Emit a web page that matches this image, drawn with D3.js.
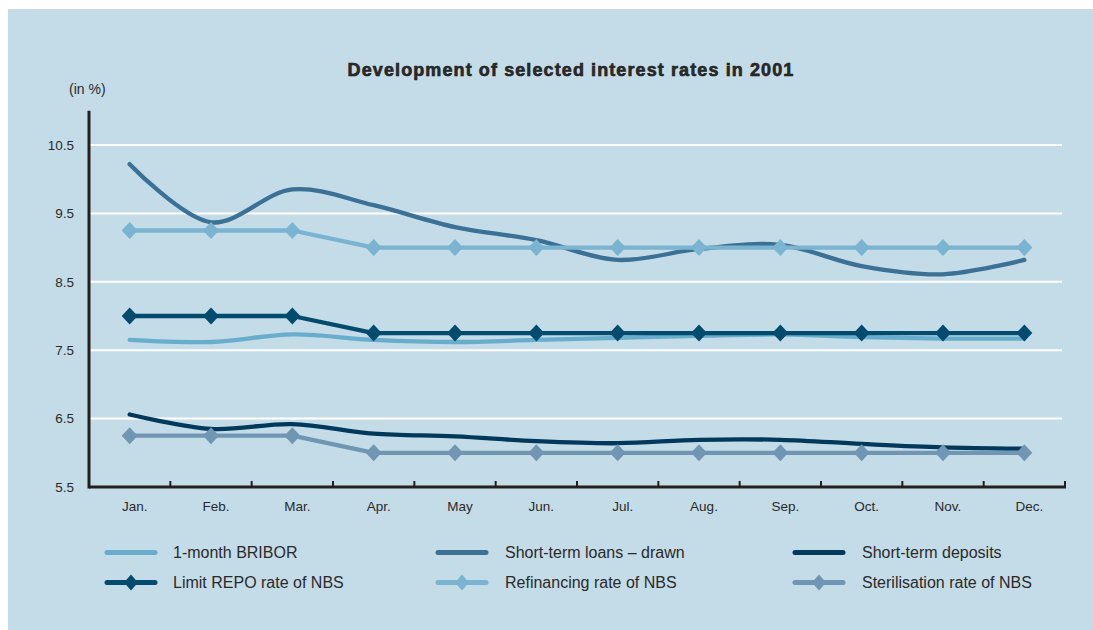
<!DOCTYPE html>
<html>
<head>
<meta charset="utf-8">
<script src="https://cdn.jsdelivr.net/npm/d3@7"></script>
<style>
  body { margin: 0; background: #ffffff; }
  text { font-family: "Liberation Sans", Arial, sans-serif; fill: #2a2a2a; }
</style>
</head>
<body>
<div id="chart"></div>
<script>
const width = 1093;
const height = 630;

// data (in %)
const months = ["Jan.", "Feb.", "Mar.", "Apr.", "May", "Jun.", "Jul.", "Aug.", "Sep.", "Oct.", "Nov.", "Dec."];
const bribor = [7.65, 7.62, 7.73, 7.65, 7.62, 7.65, 7.68, 7.71, 7.73, 7.69, 7.67, 7.67];
const loans = [10.22, 9.37, 9.85, 9.62, 9.3, 9.11, 8.82, 8.98, 9.04, 8.73, 8.61, 8.82];
const deposits = [6.56, 6.35, 6.42, 6.28, 6.24, 6.17, 6.14, 6.19, 6.19, 6.13, 6.08, 6.06];
const limitRepo = [8.0, 8.0, 8.0, 7.75, 7.75, 7.75, 7.75, 7.75, 7.75, 7.75, 7.75, 7.75];
const refinancing = [9.25, 9.25, 9.25, 9.0, 9.0, 9.0, 9.0, 9.0, 9.0, 9.0, 9.0, 9.0];
const sterilisation = [6.25, 6.25, 6.25, 6.0, 6.0, 6.0, 6.0, 6.0, 6.0, 6.0, 6.0, 6.0];
const yTicks = [5.5, 6.5, 7.5, 8.5, 9.5, 10.5];

const series = [
  { name: "1-month BRIBOR", values: bribor, color: "#69adcc", marker: false },
  { name: "Short-term loans \u2013 drawn", values: loans, color: "#3a7194", marker: false },
  { name: "Short-term deposits", values: deposits, color: "#00395b", marker: false },
  { name: "Limit REPO rate of NBS", values: limitRepo, color: "#004b6e", marker: true },
  { name: "Refinancing rate of NBS", values: refinancing, color: "#7ab4d0", marker: true },
  { name: "Sterilisation rate of NBS", values: sterilisation, color: "#7196b3", marker: true }
];

const svg = d3
  .select("#chart")
  .append("svg")
  .attr("width", width)
  .attr("height", height);

// panel background
svg
  .append("rect")
  .attr("x", 8)
  .attr("y", 9)
  .attr("width", width - 8)
  .attr("height", height - 9)
  .attr("fill", "#c4dce8");

// scales
const x = d3.scaleBand().domain(months).range([89, 1065]).padding(0);
const y = d3.scaleLinear().domain([5.5, 11]).range([487, 110.8]);
const cx = (i) => x(months[i]) + x.bandwidth() / 2;

// gridlines
svg
  .append("g")
  .selectAll("line")
  .data(yTicks.slice(1))
  .enter()
  .append("line")
  .attr("x1", 89)
  .attr("x2", 1062)
  .attr("y1", (d) => y(d))
  .attr("y2", (d) => y(d))
  .attr("stroke", "#ffffff")
  .attr("stroke-width", 2);

// y axis labels
const yAxis = svg
  .append("g")
  .attr("transform", "translate(89,0)")
  .call(d3.axisLeft(y).tickValues(yTicks).tickFormat(d3.format(".1f")).tickSize(0).tickPadding(15));
yAxis.select(".domain").remove();
yAxis.selectAll("text")
  .style("font-size", "13.5px")
  .style("font-family", "Liberation Sans, Arial, sans-serif")
  .attr("fill", "#2a2a2a");

// x axis labels
svg
  .append("g")
  .selectAll("text")
  .data(months)
  .enter()
  .append("text")
  .attr("x", (d) => x(d) + x.bandwidth() / 2 + 5)
  .attr("y", 511)
  .attr("text-anchor", "middle")
  .style("font-size", "13.5px")
  .text((d) => d);

// x axis ticks at month boundaries
svg
  .append("g")
  .selectAll("line")
  .data(months)
  .enter()
  .append("line")
  .attr("x1", (d) => x(d) + x.bandwidth())
  .attr("x2", (d) => x(d) + x.bandwidth())
  .attr("y1", 487)
  .attr("y2", 481)
  .attr("stroke", "#231f20")
  .attr("stroke-width", 2);

// axis lines
svg
  .append("line")
  .attr("x1", 89)
  .attr("x2", 1066)
  .attr("y1", 487)
  .attr("y2", 487)
  .attr("stroke", "#231f20")
  .attr("stroke-width", 3);
svg
  .append("line")
  .attr("x1", 89)
  .attr("x2", 89)
  .attr("y1", y(11))
  .attr("y2", 488.5)
  .attr("stroke", "#231f20")
  .attr("stroke-width", 3);

// lines
const smooth = d3
  .line()
  .x((d, i) => cx(i))
  .y((d) => y(d))
  .curve(d3.curveCatmullRom.alpha(0.5));
const straight = d3
  .line()
  .x((d, i) => cx(i))
  .y((d) => y(d));

const diamond = (px, py, w, h) =>
  "M" + px + "," + (py - h) + "L" + (px + w) + "," + py + "L" + px + "," + (py + h) + "L" + (px - w) + "," + py + "Z";

series.forEach((s) => {
  svg
    .append("path")
    .datum(s.values)
    .attr("d", s.marker ? straight : smooth)
    .attr("fill", "none")
    .attr("stroke", s.color)
    .attr("stroke-width", 4.3)
    .attr("stroke-linecap", "round")
    .attr("stroke-linejoin", "round");
  if (s.marker) {
    svg
      .append("g")
      .selectAll("path")
      .data(s.values)
      .enter()
      .append("path")
      .attr("d", (d, i) => diamond(cx(i), y(d), 8, 8.5))
      .attr("fill", s.color);
  }
});

// title and unit
svg
  .append("text")
  .attr("x", 571)
  .attr("y", 76)
  .attr("text-anchor", "middle")
  .style("font-size", "18px")
  .style("font-weight", "bold")
  .style("letter-spacing", "1.1px")
  .attr("fill", "#1a1a1a")
  .attr("stroke", "#1a1a1a")
  .attr("stroke-width", 0.6)
  .text("Development of selected interest rates in 2001");
svg
  .append("text")
  .attr("x", 69)
  .attr("y", 94)
  .style("font-size", "14px")
  .text("(in %)");

// legend
const legendCols = [107, 438, 795];
const legendRows = [552.5, 582.5];
const legend = svg
  .append("g")
  .selectAll("g")
  .data(series)
  .enter()
  .append("g")
  .attr("transform", (d, i) => "translate(" + legendCols[i % 3] + "," + legendRows[Math.floor(i / 3)] + ")");
legend
  .append("line")
  .attr("x1", 0)
  .attr("x2", 48)
  .attr("stroke", (d) => d.color)
  .attr("stroke-width", 5)
  .attr("stroke-linecap", "round");
legend
  .filter((d) => d.marker)
  .append("path")
  .attr("d", diamond(24, 0, 7, 8))
  .attr("fill", (d) => d.color);
legend
  .append("text")
  .attr("x", (d, i) => (i % 3 === 0 ? 66 : 67))
  .attr("y", 5.5)
  .style("font-size", "16px")
  .text((d) => d.name);
</script>
</body>
</html>
